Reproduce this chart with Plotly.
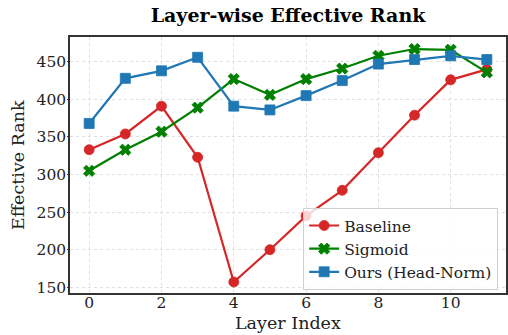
import plotly.graph_objects as go

layers = list(range(12))
baseline = [333, 354, 391, 323, 157, 200, 245, 279, 329, 379, 426, 440]
sigmoid = [305, 333, 357, 389, 427, 406, 427, 441, 458, 467, 466, 436]
ours = [368, 428, 438, 456, 391, 386, 405, 425, 447, 453, 458, 453]

series = [
    ("Baseline", baseline, "#d62728", "circle", 10),
    ("Sigmoid", sigmoid, "#008000", "x", 10),
    ("Ours (Head-Norm)", ours, "#1f77b4", "square", 10),
]

fig = go.Figure()
for name, vals, color, sym, size in series:
    fig.add_trace(go.Scatter(
        x=layers, y=vals, name=name, mode="lines+markers",
        line=dict(color=color, width=2.2),
        marker=dict(symbol=sym, size=size, color=color,
                    line=dict(width=0.8, color=color)),
    ))

font_family = "DejaVu Serif"
fig.update_layout(
    width=508, height=335,
    margin=dict(l=70, r=2, t=37, b=42),
    paper_bgcolor="white", plot_bgcolor="white",
    font=dict(family=font_family, size=15.5, color="#222"),
    title=dict(text="<b>Layer-wise Effective Rank</b>", x=0.567, xanchor="center",
               y=0.955, yanchor="middle", font=dict(size=19, color="black")),
    legend=dict(x=0.982, xanchor="right", y=0.012, yanchor="bottom",
                bgcolor="rgba(255,255,255,0.8)", bordercolor="#d0d0d0", borderwidth=1,
                font=dict(size=15.5, family=font_family), tracegroupgap=0),
    showlegend=True,
)
fig.update_xaxes(
    range=[-0.53, 11.53], tickmode="array", tickvals=[0, 2, 4, 6, 8, 10],
    showline=True, linecolor="#333", linewidth=1.5, mirror=True,
    ticks="", ticklabelstandoff=-5,
    showgrid=True, gridcolor="#e0e0e0", griddash="dot", gridwidth=1,
    zeroline=False, automargin=False,
    tickfont=dict(size=15.5),
)
fig.update_yaxes(
    range=[142.4, 483], tickmode="array", tickvals=[150, 200, 250, 300, 350, 400, 450],
    showline=True, linecolor="#333", linewidth=1.5, mirror=True,
    ticks="outside", ticklen=1, tickcolor="#333", ticklabelstandoff=-2,
    showgrid=True, gridcolor="#e0e0e0", griddash="dot", gridwidth=1,
    zeroline=False, automargin=False,
    tickfont=dict(size=15.5),
)
fig.add_annotation(text="Layer Index", xref="paper", yref="paper", x=0.5, y=-0.164,
                   xanchor="center", yanchor="bottom", showarrow=False,
                   font=dict(size=17.5, family=font_family, color="#222"))
fig.add_annotation(text="Effective Rank", xref="paper", yref="paper", x=-0.119, y=0.5,
                   xanchor="center", yanchor="middle", textangle=-90, showarrow=False,
                   font=dict(size=17.5, family=font_family, color="#222"))
fig.write_html("out.html", config={"displayModeBar": False},
               post_script="document.body.style.margin='0';document.body.style.overflow='hidden';")
